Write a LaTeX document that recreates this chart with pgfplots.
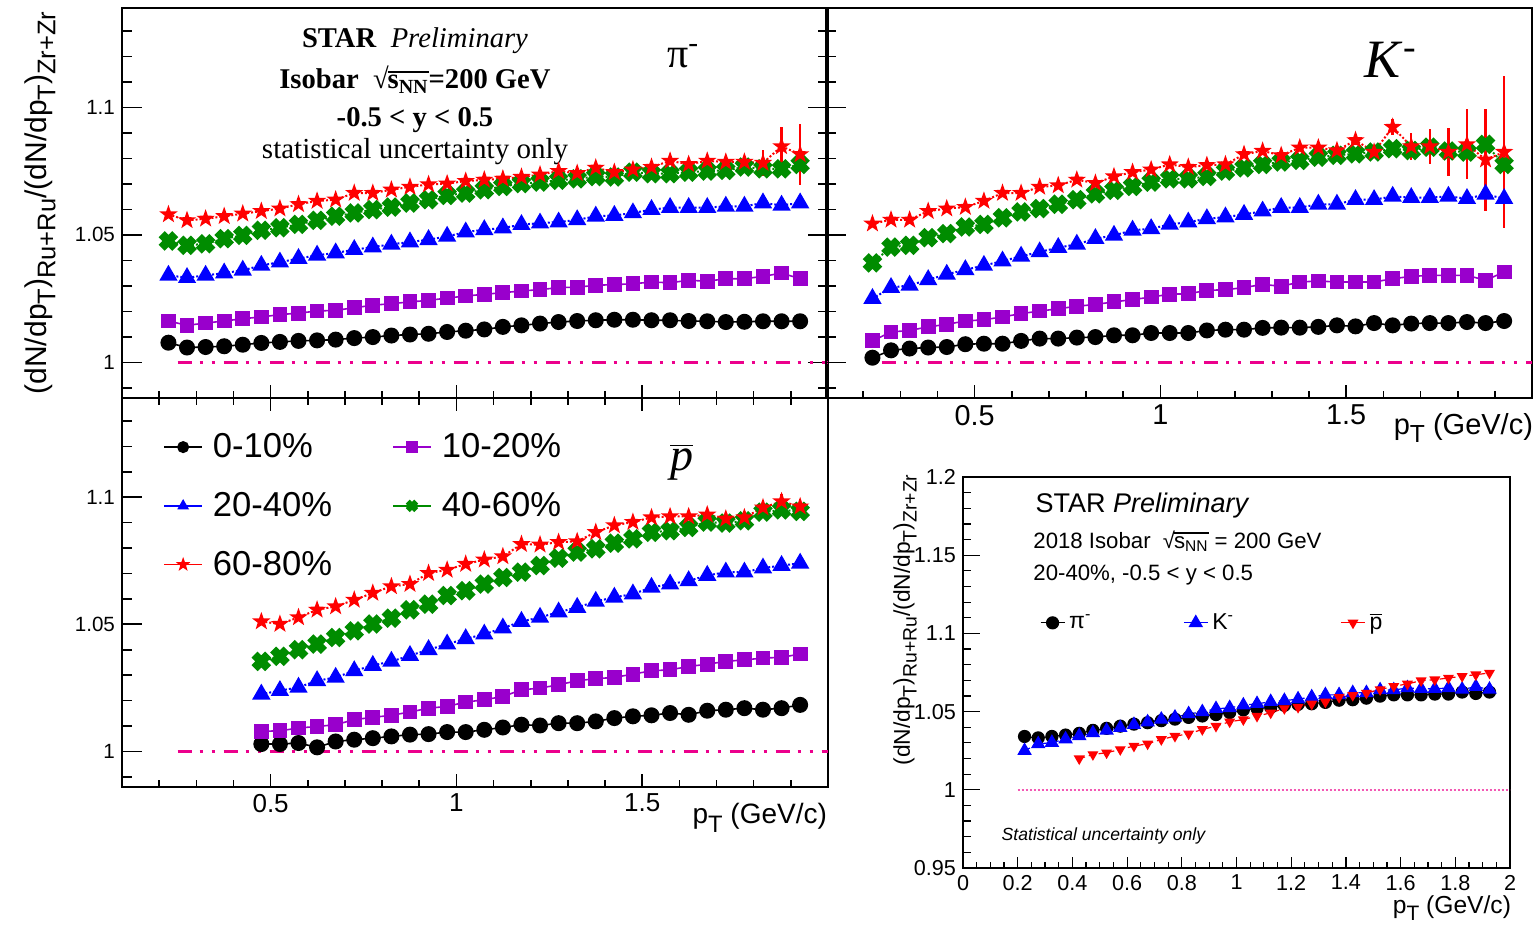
\documentclass[border=0pt]{standalone}
\usepackage{fontspec}
\setmainfont{Liberation Sans}
\newfontfamily\timesf{Liberation Serif}
\usepackage{graphicx}
\usepackage{pgfplots}
\pgfplotsset{compat=1.18}
\usepackage{pgfplotstable}
\usetikzlibrary{plotmarks}

\definecolor{vio}{RGB}{153,0,204}
\definecolor{grn}{RGB}{0,140,0}

\newcommand{\fs}[1]{\fontsize{#1}{#1}\selectfont}
\newcommand{\rsub}[1]{\raisebox{-0.3em}{\scalebox{0.85}{#1}}}
\newcommand{\ylab}{(dN/dp\rsub{T})\rsub{Ru+Ru}/(dN/dp\rsub{T})\rsub{Zr+Zr}}
% radical in the text font, low like the ROOT one
\newcommand{\sqs}{√\kern-0.6pt\vbox{\hrule height 0.8pt\kern1.3pt\hbox{s\textsubscript{NN}}}}

% filled X (ROOT style cross)
\pgfdeclareplotmark{fatx}{%
  \pgftransformrotate{45}%
  \pgfpathmoveto{\pgfqpoint{-0.38\pgfplotmarksize}{\pgfplotmarksize}}%
  \pgfpathlineto{\pgfqpoint{0.38\pgfplotmarksize}{\pgfplotmarksize}}%
  \pgfpathlineto{\pgfqpoint{0.38\pgfplotmarksize}{0.38\pgfplotmarksize}}%
  \pgfpathlineto{\pgfqpoint{\pgfplotmarksize}{0.38\pgfplotmarksize}}%
  \pgfpathlineto{\pgfqpoint{\pgfplotmarksize}{-0.38\pgfplotmarksize}}%
  \pgfpathlineto{\pgfqpoint{0.38\pgfplotmarksize}{-0.38\pgfplotmarksize}}%
  \pgfpathlineto{\pgfqpoint{0.38\pgfplotmarksize}{-\pgfplotmarksize}}%
  \pgfpathlineto{\pgfqpoint{-0.38\pgfplotmarksize}{-\pgfplotmarksize}}%
  \pgfpathlineto{\pgfqpoint{-0.38\pgfplotmarksize}{-0.38\pgfplotmarksize}}%
  \pgfpathlineto{\pgfqpoint{-\pgfplotmarksize}{-0.38\pgfplotmarksize}}%
  \pgfpathlineto{\pgfqpoint{-\pgfplotmarksize}{0.38\pgfplotmarksize}}%
  \pgfpathlineto{\pgfqpoint{-0.38\pgfplotmarksize}{0.38\pgfplotmarksize}}%
  \pgfpathclose\pgfusepathqfillstroke}
% filled 5-point star
\pgfdeclareplotmark{fstar}{%
  \pgfpathmoveto{\pgfqpoint{0pt}{\pgfplotmarksize}}%
  \pgfpathlineto{\pgfqpoint{-0.235\pgfplotmarksize}{0.324\pgfplotmarksize}}%
  \pgfpathlineto{\pgfqpoint{-0.951\pgfplotmarksize}{0.309\pgfplotmarksize}}%
  \pgfpathlineto{\pgfqpoint{-0.380\pgfplotmarksize}{-0.124\pgfplotmarksize}}%
  \pgfpathlineto{\pgfqpoint{-0.588\pgfplotmarksize}{-0.809\pgfplotmarksize}}%
  \pgfpathlineto{\pgfqpoint{0pt}{-0.4\pgfplotmarksize}}%
  \pgfpathlineto{\pgfqpoint{0.588\pgfplotmarksize}{-0.809\pgfplotmarksize}}%
  \pgfpathlineto{\pgfqpoint{0.380\pgfplotmarksize}{-0.124\pgfplotmarksize}}%
  \pgfpathlineto{\pgfqpoint{0.951\pgfplotmarksize}{0.309\pgfplotmarksize}}%
  \pgfpathlineto{\pgfqpoint{0.235\pgfplotmarksize}{0.324\pgfplotmarksize}}%
  \pgfpathclose\pgfusepathqfillstroke}

% pi-: a=0-10 b=10-20 c=20-40 d=40-60 e=60-80, ee = stat. error of e
\pgfplotstableread{
x a b c d e ee
0.225 1.0077 1.0162 1.0341 1.0476 1.0580 0.001
0.275 1.0058 1.0145 1.0332 1.0459 1.0557 0.001
0.325 1.0060 1.0154 1.0341 1.0465 1.0563 0.001
0.375 1.0063 1.0162 1.0350 1.0485 1.0573 0.001
0.425 1.0069 1.0171 1.0361 1.0498 1.0583 0.001
0.475 1.0076 1.0178 1.0380 1.0518 1.0593 0.001
0.525 1.0080 1.0187 1.0393 1.0528 1.0603 0.001
0.575 1.0084 1.0193 1.0407 1.0541 1.0620 0.001
0.625 1.0086 1.0201 1.0420 1.0557 1.0633 0.001
0.675 1.0089 1.0204 1.0429 1.0573 1.0638 0.001
0.725 1.0095 1.0214 1.0442 1.0586 1.0664 0.001
0.775 1.0099 1.0224 1.0452 1.0599 1.0664 0.001
0.825 1.0105 1.0230 1.0463 1.0609 1.0677 0.001
0.875 1.0109 1.0237 1.0472 1.0625 1.0688 0.001
0.925 1.0112 1.0243 1.0481 1.0638 1.0698 0.001
0.975 1.0119 1.0252 1.0494 1.0655 1.0701 0.001
1.025 1.0124 1.0260 1.0511 1.0664 1.0711 0.001
1.075 1.0129 1.0267 1.0520 1.0677 1.0716 0.001
1.125 1.0139 1.0273 1.0527 1.0690 1.0720 0.001
1.175 1.0145 1.0280 1.0540 1.0701 1.0727 0.001
1.225 1.0152 1.0285 1.0546 1.0707 1.0736 0.001
1.275 1.0158 1.0293 1.0550 1.0714 1.0750 0.001
1.325 1.0162 1.0295 1.0559 1.0720 1.0742 0.001
1.375 1.0165 1.0302 1.0573 1.0729 1.0763 0.001
1.425 1.0167 1.0305 1.0576 1.0727 1.0746 0.001
1.475 1.0167 1.0308 1.0586 1.0746 1.0756 0.001
1.525 1.0165 1.0315 1.0599 1.0740 1.0766 0.001
1.575 1.0165 1.0312 1.0607 1.0740 1.0790 0.001
1.625 1.0162 1.0322 1.0607 1.0746 1.0777 0.001
1.675 1.0161 1.0318 1.0607 1.0750 1.0790 0.0015
1.725 1.0158 1.0328 1.0612 1.0753 1.0786 0.002
1.775 1.0159 1.0328 1.0612 1.0766 1.0786 0.002
1.825 1.0161 1.0337 1.0625 1.0759 1.0782 0.005
1.875 1.0161 1.0350 1.0616 1.0759 1.0847 0.0075
1.925 1.0161 1.0328 1.0625 1.0776 1.0816 0.012
}\pidata

% K-
\pgfplotstableread{
x a b c d e ee
0.225 1.0018 1.0084 1.0250 1.0390 1.0544 0.001
0.275 1.0047 1.0119 1.0293 1.0452 1.0559 0.001
0.325 1.0054 1.0125 1.0302 1.0459 1.0559 0.001
0.375 1.0058 1.0139 1.0324 1.0489 1.0593 0.001
0.425 1.0060 1.0149 1.0345 1.0505 1.0603 0.001
0.475 1.0071 1.0162 1.0363 1.0531 1.0609 0.001
0.525 1.0073 1.0167 1.0380 1.0541 1.0633 0.001
0.575 1.0073 1.0178 1.0397 1.0567 1.0664 0.001
0.625 1.0084 1.0191 1.0416 1.0590 1.0664 0.001
0.675 1.0093 1.0201 1.0433 1.0603 1.0688 0.001
0.725 1.0093 1.0210 1.0450 1.0620 1.0694 0.001
0.775 1.0097 1.0220 1.0463 1.0638 1.0716 0.001
0.825 1.0099 1.0227 1.0485 1.0661 1.0703 0.001
0.875 1.0106 1.0237 1.0498 1.0675 1.0729 0.001
0.925 1.0106 1.0246 1.0518 1.0690 1.0746 0.001
0.975 1.0115 1.0256 1.0524 1.0707 1.0756 0.001
1.025 1.0115 1.0267 1.0541 1.0720 1.0776 0.001
1.075 1.0115 1.0269 1.0550 1.0720 1.0766 0.001
1.125 1.0125 1.0282 1.0563 1.0729 1.0773 0.001
1.175 1.0128 1.0285 1.0570 1.0750 1.0776 0.001
1.225 1.0128 1.0293 1.0580 1.0763 1.0816 0.001
1.275 1.0135 1.0306 1.0593 1.0776 1.0829 0.001
1.325 1.0136 1.0298 1.0607 1.0786 1.0812 0.001
1.375 1.0136 1.0315 1.0607 1.0792 1.0842 0.001
1.425 1.0139 1.0319 1.0620 1.0805 1.0842 0.001
1.475 1.0145 1.0315 1.0620 1.0812 1.0831 0.001
1.525 1.0141 1.0315 1.0638 1.0818 1.0871 0.002
1.575 1.0154 1.0315 1.0638 1.0825 1.0825 0.001
1.625 1.0145 1.0328 1.0651 1.0838 1.0923 0.003
1.675 1.0152 1.0337 1.0646 1.0831 1.0847 0.0054
1.725 1.0154 1.0341 1.0646 1.0844 1.0847 0.007
1.775 1.0154 1.0341 1.0651 1.0829 1.0825 0.0093
1.825 1.0158 1.0341 1.0642 1.0825 1.0855 0.0137
1.875 1.0154 1.0322 1.0659 1.0855 1.0795 0.020
1.925 1.0162 1.0354 1.0642 1.0776 1.0825 0.030
}\kdata

% anti-proton
\pgfplotstableread{
x a b c d e ee
0.475 1.0029 1.0079 1.0225 1.0354 1.0511 0.0015
0.525 1.0029 1.0081 1.0239 1.0374 1.0501 0.0015
0.575 1.0033 1.0092 1.0252 1.0400 1.0527 0.0015
0.625 1.0016 1.0098 1.0278 1.0422 1.0557 0.0015
0.675 1.0039 1.0105 1.0291 1.0448 1.0570 0.0015
0.725 1.0046 1.0125 1.0317 1.0474 1.0596 0.0015
0.775 1.0052 1.0134 1.0338 1.0501 1.0623 0.0015
0.825 1.0059 1.0142 1.0354 1.0524 1.0649 0.0015
0.875 1.0066 1.0155 1.0377 1.0557 1.0658 0.0015
0.925 1.0068 1.0170 1.0400 1.0579 1.0701 0.0015
0.975 1.0076 1.0177 1.0422 1.0613 1.0714 0.0015
1.025 1.0076 1.0194 1.0443 1.0632 1.0737 0.0015
1.075 1.0085 1.0203 1.0461 1.0658 1.0754 0.0015
1.125 1.0094 1.0216 1.0485 1.0684 1.0767 0.0015
1.175 1.0105 1.0242 1.0511 1.0705 1.0815 0.0015
1.225 1.0102 1.0249 1.0527 1.0731 1.0813 0.0015
1.275 1.0111 1.0262 1.0548 1.0760 1.0823 0.0015
1.325 1.0111 1.0278 1.0566 1.0784 1.0826 0.0015
1.375 1.0118 1.0286 1.0590 1.0797 1.0862 0.0015
1.425 1.0131 1.0291 1.0606 1.0819 1.0889 0.0015
1.475 1.0138 1.0304 1.0619 1.0836 1.0902 0.0015
1.525 1.0142 1.0317 1.0645 1.0862 1.0920 0.0015
1.575 1.0151 1.0321 1.0658 1.0868 1.0924 0.0015
1.625 1.0144 1.0334 1.0671 1.0881 1.0924 0.0015
1.675 1.0160 1.0343 1.0692 1.0902 1.0931 0.0015
1.725 1.0164 1.0354 1.0705 1.0898 1.0915 0.002
1.775 1.0170 1.0360 1.0705 1.0907 1.0920 0.002
1.825 1.0164 1.0367 1.0721 1.0941 1.0959 0.003
1.875 1.0170 1.0370 1.0731 1.0950 1.0983 0.003
1.925 1.0183 1.0383 1.0740 1.0944 1.0963 0.003
}\pbdata

% anti-proton, 20-40%, as in the small summary panel
\pgfplotstableread{
x y
0.425 1.0199
0.475 1.0226
0.525 1.0237
0.575 1.0258
0.625 1.0280
0.675 1.0294
0.725 1.0322
0.775 1.0343
0.825 1.0358
0.875 1.0386
0.925 1.0407
0.975 1.0435
1.025 1.0449
1.075 1.0471
1.125 1.0492
1.175 1.0520
1.225 1.0528
1.275 1.0549
1.325 1.0562
1.375 1.0592
1.425 1.0604
1.475 1.0619
1.525 1.0641
1.575 1.0662
1.625 1.0677
1.675 1.0698
1.725 1.0704
1.775 1.0715
1.825 1.0726
1.875 1.0736
1.925 1.0747
}\pbinset

\pgfplotsset{
  panel/.style={
    scale only axis, width=353pt, height=195pt,
    xmin=0.1, xmax=2.0, ymin=0.986, ymax=1.139,
    xtick={0.5,1,1.5},
    minor xtick={0.2,0.3,0.4,0.6,0.7,0.8,0.9,1.1,1.2,1.3,1.4,1.6,1.7,1.8,1.9},
    ytick={1,1.05,1.1},
    minor ytick={0.99,1.01,1.02,1.03,1.04,1.06,1.07,1.08,1.09,1.11,1.12,1.13},
    tick align=inside,
    major tick length=10pt, minor tick length=5pt,
    xtick style={/pgfplots/major tick length=6.5pt,/pgfplots/minor tick length=3.5pt},
    axis line style={line width=1pt},
    tick style={black, line width=0.8pt},
    /pgf/number format/assume math mode=true,
  },
  sa/.style={black, mark=*, mark size=3.6pt, line width=0.8pt},
  sb/.style={vio, mark=square*, mark size=3.3pt, line width=0.8pt},
  sc/.style={blue, densely dotted, mark=triangle*, mark size=4.3pt, mark options={solid}, line width=1pt},
  sd/.style={grn, densely dotted, mark=fatx, mark size=4.3pt, mark options={solid}, line width=1pt},
  se/.style={red, densely dotted, mark=fstar, mark size=3.3pt, mark options={solid}, line width=1pt,
    /pgfplots/error bars/y dir=both, /pgfplots/error bars/y explicit,
    /pgfplots/error bars/error bar style={solid, line width=1.2pt},
    /pgfplots/error bars/error mark=none},
  unity/.style={magenta, line width=1.2pt, forget plot,
    dash pattern=on 7pt off 4pt on 1.5pt off 4.5pt on 1.5pt off 4.5pt},
}

\begin{document}
\begin{tikzpicture}
\path[use as bounding box] (0pt,0pt) rectangle (768.5pt,464pt);

% ---------- pi- ----------
\begin{axis}[panel, at={(61pt,265pt)}, anchor=south west,
  xtick pos=left, ytick pos=both, yticklabel pos=left, xticklabels={},
  yticklabel style={font=\fs{10.3}},
  ylabel={\ylab},
  ylabel style={at={(axis description cs:-0.116,0.5)}, anchor=center, font=\fs{15}},
]
\addplot[unity] coordinates {(0.25,1) (2.0,1)};
\addplot[sa] table[x=x,y=a]{\pidata};
\addplot[sb] table[x=x,y=b]{\pidata};
\addplot[sc] table[x=x,y=c]{\pidata};
\addplot[sd] table[x=x,y=d]{\pidata};
\addplot[se] table[x=x,y=e,y error=ee]{\pidata};
\node[inner sep=0pt, font=\timesf\fs{14.3}] at (axis description cs:0.415,0.915) {\textbf{STAR}\ \ \textit{Preliminary}};
\node[inner sep=0pt, font=\timesf\fs{14.3}\bfseries] at (axis description cs:0.415,0.816) {Isobar\ \ \sqs=200 GeV};
\node[inner sep=0pt, font=\timesf\fs{14.3}\bfseries] at (axis description cs:0.415,0.713) {-0.5 < y < 0.5};
\node[inner sep=0pt, font=\timesf\fs{14.5}] at (axis description cs:0.415,0.633) {statistical uncertainty only};
\node[font=\timesf\fs{21}] at (axis description cs:0.795,0.876) {π\textsuperscript{-}};
\end{axis}

% ---------- K- ----------
\begin{axis}[panel, at={(413pt,265pt)}, anchor=south west,
  xtick pos=left, ytick pos=left, yticklabels={},
  xticklabel style={font=\fs{14.4}},
  xlabel={p\rsub{T} (GeV/c)},
  xlabel style={at={(axis description cs:1,0)}, anchor=east, xshift=4pt, yshift=-15pt, font=\fs{14.5}},
]
\addplot[unity] coordinates {(0.25,1) (2.0,1)};
\addplot[sa] table[x=x,y=a]{\kdata};
\addplot[sb] table[x=x,y=b]{\kdata};
\addplot[sc] table[x=x,y=c]{\kdata};
\addplot[sd] table[x=x,y=d]{\kdata};
\addplot[se] table[x=x,y=e,y error=ee]{\kdata};
\node[font=\timesf\fs{27}] at (axis description cs:0.80,0.867) {\textit{K}\textsuperscript{-}};
\end{axis}

% ---------- anti-proton ----------
\begin{axis}[panel, at={(61pt,70.5pt)}, anchor=south west, height=194.5pt,
  xtick pos=both, xticklabel pos=left, ytick pos=left,
  xticklabel style={font=\fs{13}},
  yticklabel style={font=\fs{10.3}},
  xlabel={p\rsub{T} (GeV/c)},
  xlabel style={at={(axis description cs:1,0)}, anchor=east, xshift=3pt, yshift=-15.5pt, font=\fs{14}},
  legend columns=2, legend cell align=left,
  legend style={at={(axis description cs:0.058,0.92)}, anchor=north west,
    draw=none, fill=none, font=\fs{17.3}, row sep=11.8pt, inner sep=0pt,
    /tikz/every odd column/.append style={column sep=3pt},
    /tikz/every even column/.append style={column sep=28pt}},
  legend image code/.code={\draw[mark repeat=2,mark phase=2] plot coordinates {(0pt,0pt) (9.5pt,0pt) (19pt,0pt)};},
  legend image post style={solid, mark size=2.6pt, line width=0.8pt},
]
\addplot[unity] coordinates {(0.25,1) (2.0,1)};
\addplot[sa] table[x=x,y=a]{\pbdata}; \addlegendentry{0-10\%}
\addplot[sb] table[x=x,y=b]{\pbdata}; \addlegendentry{10-20\%}
\addplot[sc] table[x=x,y=c]{\pbdata}; \addlegendentry{20-40\%}
\addplot[sd] table[x=x,y=d]{\pbdata}; \addlegendentry{40-60\%}
\addplot[se] table[x=x,y=e,y error=ee]{\pbdata}; \addlegendentry{60-80\%}
\node[font=\timesf\fs{23}] at (axis description cs:0.793,0.835) {$\overline{\mbox{\itshape p}}$};
\end{axis}

% ---------- summary panel, 20-40% ----------
\begin{axis}[scale only axis, at={(481.5pt,30pt)}, anchor=south west,
  width=273.5pt, height=195.5pt,
  xmin=0, xmax=2, ymin=0.95, ymax=1.2,
  xtick={0,0.2,0.4,0.6,0.8,1,1.2,1.4,1.6,1.8,2}, minor x tick num=3,
  ytick={0.95,1,1.05,1.1,1.15,1.2}, minor y tick num=4,
  xtick pos=left, ytick pos=left, tick align=inside,
  major tick length=8.5pt, minor tick length=4pt,
  xtick style={/pgfplots/major tick length=5.5pt,/pgfplots/minor tick length=3pt},
  axis line style={line width=0.6pt},
  tick style={black, line width=0.6pt},
  /pgf/number format/assume math mode=true,
  ticklabel style={font=\fs{10.8}},
  ylabel={\ylab},
  ylabel style={at={(axis description cs:-0.106,0.634)}, anchor=center, font=\fs{11.4}},
  xlabel={p\rsub{T} (GeV/c)},
  xlabel style={at={(axis description cs:1,0)}, anchor=east, xshift=4pt, yshift=-20pt, font=\fs{12.3}},
  legend columns=3,
  legend style={at={(axis description cs:0.14,0.627)}, anchor=west,
    draw=none, fill=none, font=\fs{11.5}, inner sep=0pt},
  legend image code/.code={\draw[mark repeat=2,mark phase=2] plot coordinates {(0pt,0pt) (6pt,0pt) (12pt,0pt)};},
  legend image post style={solid, line width=0.6pt},
]
\addplot[magenta!65, densely dotted, line width=1pt, forget plot] coordinates {(0.2,1) (2,1)};
\addplot[black, mark=*, mark size=3pt, line width=0.6pt] table[x=x,y=c]{\pidata};
\addlegendentry{\makebox[55pt][l]{π\textsuperscript{-}}}
\addplot[blue, densely dashed, mark=triangle*, mark size=3.6pt, mark options={solid}, line width=0.6pt] table[x=x,y=c]{\kdata};
\addlegendentry{\makebox[62pt][l]{K\textsuperscript{-}}}
\addplot[red, densely dashed, mark=triangle*, mark size=2.6pt, mark options={solid, rotate=180}, line width=0.6pt] table[x=x,y=y]{\pbinset};
\addlegendentry{$\overline{\mbox{p}}$}
\node[inner sep=0pt, anchor=west, font=\fs{13.5}] at (axis description cs:0.132,0.928) {STAR \textit{Preliminary}};
\node[inner sep=0pt, anchor=west, font=\fs{11.1}] at (axis description cs:0.128,0.836) {2018 Isobar\ \ \sqs\ = 200 GeV};
\node[inner sep=0pt, anchor=west, font=\fs{11.1}] at (axis description cs:0.128,0.749) {20-40\%, -0.5 < y < 0.5};
\node[inner sep=0pt, anchor=west, font=\fs{8.8}\itshape] at (axis description cs:0.07,0.082) {Statistical uncertainty only};
\end{axis}
\end{tikzpicture}
\end{document}
